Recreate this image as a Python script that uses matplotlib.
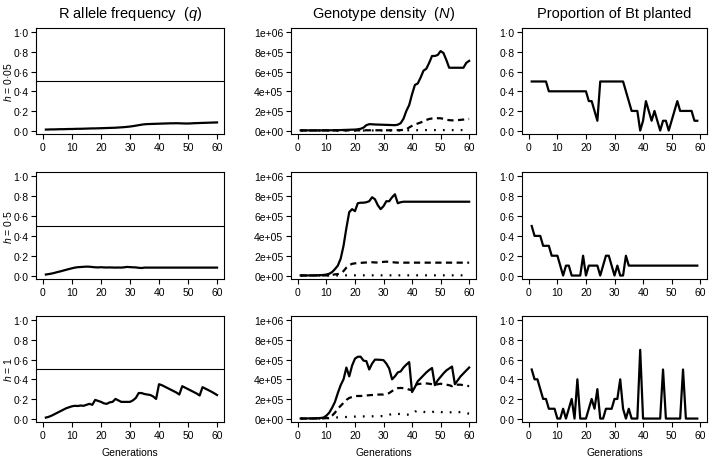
import matplotlib
matplotlib.use("Agg")
import matplotlib.pyplot as plt
from matplotlib.ticker import FuncFormatter
import numpy as np

plt.rcParams['font.family'] = ['Liberation Sans', 'DejaVu Sans']
plt.rcParams['mathtext.fontset'] = 'custom'
plt.rcParams['mathtext.it'] = 'Liberation Sans:italic'
plt.rcParams['mathtext.rm'] = 'Liberation Sans'

gens = np.arange(1, 61)
gens_bt = np.arange(1, 60)

col_titles = [r"R allele frequency  ($\it{q}$)",
              r"Genotype density  ($\it{N}$)",
              "Proportion of Bt planted"]
row_labels = [r"$\it{h}$ = 0·05", r"$\it{h}$ = 0·5", r"$\it{h}$ = 1"]
n_ticks = [0, 2e5, 4e5, 6e5, 8e5, 1e6]
n_ticklabels = ["0e+00", "2e+05", "4e+05", "6e+05", "8e+05", "1e+06"]

# R allele frequency, one list per dominance level
q_h005 = [0.010, 0.011, 0.012, 0.012, 0.013, 0.014, 0.014, 0.015, 0.016, 0.016,
          0.017, 0.018, 0.018, 0.019, 0.020, 0.021, 0.022, 0.022, 0.023, 0.024,
          0.025, 0.026, 0.027, 0.028, 0.029, 0.031, 0.033, 0.035, 0.038, 0.041,
          0.045, 0.050, 0.055, 0.060, 0.064, 0.066, 0.067, 0.068, 0.069, 0.070,
          0.071, 0.072, 0.073, 0.074, 0.074, 0.075, 0.074, 0.073, 0.072, 0.072,
          0.073, 0.075, 0.076, 0.077, 0.078, 0.079, 0.080, 0.081, 0.082, 0.083]
q_h05 = [0.010, 0.015, 0.020, 0.027, 0.035, 0.042, 0.050, 0.058, 0.066, 0.073,
         0.080, 0.084, 0.086, 0.088, 0.090, 0.089, 0.086, 0.083, 0.082, 0.084,
         0.082, 0.081, 0.082, 0.081, 0.080, 0.081, 0.080, 0.083, 0.087, 0.085,
         0.083, 0.082, 0.078, 0.076, 0.080, 0.080, 0.080, 0.080, 0.080, 0.080,
         0.080, 0.080, 0.080, 0.080, 0.080, 0.080, 0.080, 0.080, 0.080, 0.080,
         0.080, 0.080, 0.080, 0.080, 0.080, 0.080, 0.080, 0.080, 0.080, 0.080]
q_h1 = [0.010, 0.018, 0.030, 0.045, 0.060, 0.075, 0.090, 0.105, 0.115, 0.125,
        0.130, 0.128, 0.133, 0.130, 0.140, 0.150, 0.140, 0.190, 0.180, 0.170,
        0.155, 0.150, 0.165, 0.170, 0.200, 0.185, 0.170, 0.170, 0.170, 0.170,
        0.185, 0.210, 0.260, 0.260, 0.250, 0.245, 0.240, 0.225, 0.200, 0.350,
        0.340, 0.325, 0.310, 0.295, 0.280, 0.265, 0.245, 0.330, 0.315, 0.300,
        0.285, 0.270, 0.255, 0.235, 0.320, 0.305, 0.290, 0.275, 0.258, 0.240]

# genotype densities in thousands: SS (solid), RS (dashed), RR (dotted)
ss_h005 = [2, 2, 2, 2, 2, 2, 2, 2, 3, 3,
           3, 3, 4, 4, 5, 6, 7, 8, 9, 10,
           13, 18, 30, 55, 65, 64, 62, 61, 60, 59,
           58, 57, 56, 55, 60, 75, 120, 200, 260, 370,
           465, 480, 540, 610, 630, 690, 760, 760, 770, 810,
           790, 720, 640, 640, 640, 640, 640, 640, 690, 710]
rs_h005 = [1, 1, 1, 1, 1, 1, 1, 1, 1, 1,
           1, 1, 1, 1, 2, 2, 2, 2, 2, 2,
           2, 2, 2, 3, 3, 3, 3, 3, 3, 3,
           3, 3, 3, 3, 4, 5, 7, 12, 32, 48,
           62, 72, 82, 95, 108, 118, 123, 125, 126, 125,
           120, 112, 106, 104, 104, 106, 109, 112, 116, 118]
rr_h005 = [0, 0, 0, 0, 0, 0, 0, 0, 0, 0,
           0, 0, 0, 0, 0, 0, 0, 0, 0, 0,
           0, 0, 0, 0, 1, 1, 1, 1, 1, 1,
           1, 1, 1, 1, 1, 2, 2, 2, 3, 3,
           3, 4, 4, 4, 5, 5, 5, 5, 5, 5,
           5, 5, 5, 5, 5, 5, 5, 5, 5, 5]

ss_h05 = [1, 1, 1, 1, 2, 2, 3, 4, 6, 10,
          18, 35, 65, 100, 170, 300, 480, 640, 670, 650,
          730, 735, 735, 740, 750, 790, 770, 710, 670, 700,
          750, 750, 790, 820, 730, 740, 745, 745, 745, 745,
          745, 745, 745, 745, 745, 745, 745, 745, 745, 745,
          745, 745, 745, 745, 745, 745, 745, 745, 745, 745]
rs_h05 = [0, 0, 0, 0, 0, 0, 0, 0, 1, 1,
          2, 5, 12, 15, 20, 45, 80, 105, 118, 123,
          126, 128, 130, 132, 134, 134, 132, 131, 134, 138,
          140, 138, 135, 132, 130, 130, 130, 130, 130, 130,
          130, 130, 130, 130, 130, 130, 130, 130, 130, 130,
          130, 130, 130, 130, 130, 130, 130, 130, 130, 130]
rr_h05 = [0, 0, 0, 0, 0, 0, 0, 0, 0, 0,
          0, 0, 1, 1, 1, 2, 2, 2, 2, 2,
          2, 2, 2, 2, 2, 2, 2, 2, 2, 2,
          2, 2, 2, 2, 2, 2, 2, 2, 2, 2,
          2, 2, 2, 2, 2, 2, 2, 2, 2, 2,
          2, 2, 2, 2, 2, 2, 2, 2, 2, 2]

ss_h1 = [1, 1, 1, 2, 2, 3, 4, 6, 10, 30,
         60, 110, 170, 260, 340, 400, 520, 430, 540, 610,
         630, 630, 590, 585, 500, 560, 600, 600, 598, 595,
         560, 510, 400, 430, 470, 480, 520, 550, 575, 270,
         320, 380, 410, 440, 470, 495, 515, 340, 390, 425,
         460, 490, 510, 530, 350, 390, 430, 460, 490, 520]
rs_h1 = [0, 0, 0, 0, 0, 0, 1, 1, 2, 4,
         10, 30, 60, 100, 130, 160, 190, 210, 220, 230,
         230, 230, 232, 235, 238, 240, 242, 244, 245, 245,
         250, 260, 280, 300, 310, 312, 310, 305, 295, 290,
         340, 350, 355, 360, 358, 355, 350, 340, 350, 355,
         350, 345, 340, 330, 345, 345, 345, 340, 335, 330]
rr_h1 = [0, 0, 0, 0, 0, 0, 0, 0, 1, 2,
         4, 8, 10, 12, 14, 15, 16, 18, 19, 20,
         20, 21, 22, 22, 23, 23, 24, 24, 25, 25,
         30, 38, 48, 50, 48, 45, 42, 40, 40, 45,
         70, 80, 75, 70, 62, 60, 65, 75, 72, 68,
         62, 60, 62, 66, 70, 68, 64, 60, 55, 50]

# proportion of Bt crop planted, generations 1-59
bt_h005 = [0.5, 0.5, 0.5, 0.5, 0.5, 0.5, 0.4, 0.4, 0.4, 0.4,
           0.4, 0.4, 0.4, 0.4, 0.4, 0.4, 0.4, 0.4, 0.4, 0.4,
           0.3, 0.3, 0.2, 0.1, 0.5, 0.5, 0.5, 0.5, 0.5, 0.5,
           0.5, 0.5, 0.5, 0.4, 0.3, 0.2, 0.2, 0.2, 0.0, 0.1,
           0.3, 0.2, 0.1, 0.2, 0.1, 0.0, 0.1, 0.1, 0.0, 0.1,
           0.2, 0.3, 0.2, 0.2, 0.2, 0.2, 0.2, 0.1, 0.1]
bt_h05 = [0.5, 0.4, 0.4, 0.4, 0.3, 0.3, 0.3, 0.2, 0.2, 0.2,
          0.1, 0.0, 0.1, 0.1, 0.0, 0.0, 0.0, 0.0, 0.2, 0.0,
          0.1, 0.1, 0.1, 0.1, 0.0, 0.1, 0.2, 0.2, 0.1, 0.0,
          0.1, 0.0, 0.0, 0.2, 0.1, 0.1, 0.1, 0.1, 0.1, 0.1,
          0.1, 0.1, 0.1, 0.1, 0.1, 0.1, 0.1, 0.1, 0.1, 0.1,
          0.1, 0.1, 0.1, 0.1, 0.1, 0.1, 0.1, 0.1, 0.1]
bt_h1 = [0.5, 0.4, 0.4, 0.3, 0.2, 0.2, 0.1, 0.1, 0.1, 0.0,
         0.0, 0.1, 0.0, 0.1, 0.2, 0.0, 0.4, 0.0, 0.0, 0.0,
         0.1, 0.2, 0.1, 0.3, 0.0, 0.0, 0.1, 0.1, 0.1, 0.2,
         0.2, 0.4, 0.1, 0.0, 0.1, 0.0, 0.0, 0.0, 0.7, 0.0,
         0.0, 0.0, 0.0, 0.0, 0.0, 0.0, 0.5, 0.0, 0.0, 0.0,
         0.0, 0.0, 0.0, 0.5, 0.0, 0.0, 0.0, 0.0, 0.0]

q_rows = [q_h005, q_h05, q_h1]
n_rows = [(ss_h005, rs_h005, rr_h005), (ss_h05, rs_h05, rr_h05), (ss_h1, rs_h1, rr_h1)]
bt_rows = [bt_h005, bt_h05, bt_h1]

W, H = 709, 460
col_px = [(36, 224), (291, 476), (522, 707)]
row_px = [(29, 135), (173, 280), (317, 423)]
lw = 1.6
dashed = (0, (2.8, 2.0))
dotted = (0, (0.8, 3.2))
dot_fmt = FuncFormatter(lambda v, p: "{:.1f}".format(v).replace(".", "·"))


def style_axes(ax):
    for s in ax.spines.values():
        s.set_linewidth(0.8)
    ax.tick_params(direction="out", length=3.5, width=0.8, labelsize=7.5, pad=2)
    ax.set_xlim(-2.4, 62.4)
    ax.set_xticks([0, 10, 20, 30, 40, 50, 60])


fig = plt.figure(figsize=(W / 100, H / 100), dpi=100)

for r in range(3):
    top, bot = row_px[r]
    axes = []
    for c in range(3):
        x0, x1 = col_px[c]
        ax = fig.add_axes([x0 / W, 1 - bot / H, (x1 - x0) / W, (bot - top) / H])
        style_axes(ax)
        axes.append(ax)
    ax_q, ax_n, ax_bt = axes

    ax_q.plot(gens, q_rows[r], color="black", lw=lw)
    ax_q.axhline(0.5, color="black", lw=0.8)
    ax_q.set_ylim(-0.035, 1.045)
    ax_q.set_yticks([0, 0.2, 0.4, 0.6, 0.8, 1.0])
    ax_q.yaxis.set_major_formatter(dot_fmt)
    ax_q.set_ylabel(row_labels[r], fontsize=7.5)
    ax_q.yaxis.set_label_coords(-0.118, 0.5)

    ss, rs, rr = n_rows[r]
    ax_n.plot(gens, np.array(ss) * 1000, color="black", lw=lw)
    ax_n.plot(gens, np.array(rs) * 1000, color="black", lw=lw, linestyle=dashed)
    ax_n.plot(gens, np.array(rr) * 1000, color="black", lw=lw, linestyle=dotted)
    ax_n.set_ylim(-3.5e4, 1.045e6)
    ax_n.set_yticks(n_ticks)
    ax_n.set_yticklabels(n_ticklabels)

    ax_bt.plot(gens_bt, bt_rows[r], color="black", lw=lw)
    ax_bt.set_ylim(-0.035, 1.045)
    ax_bt.set_yticks([0, 0.2, 0.4, 0.6, 0.8, 1.0])
    ax_bt.yaxis.set_major_formatter(dot_fmt)

    if r == 0:
        for ax, t in zip(axes, col_titles):
            ax.set_title(t, fontsize=10.5, pad=8)
    if r == 2:
        for ax in axes:
            ax.set_xlabel("Generations", fontsize=7.5, labelpad=5)

fig.savefig("out.png", dpi=100)
